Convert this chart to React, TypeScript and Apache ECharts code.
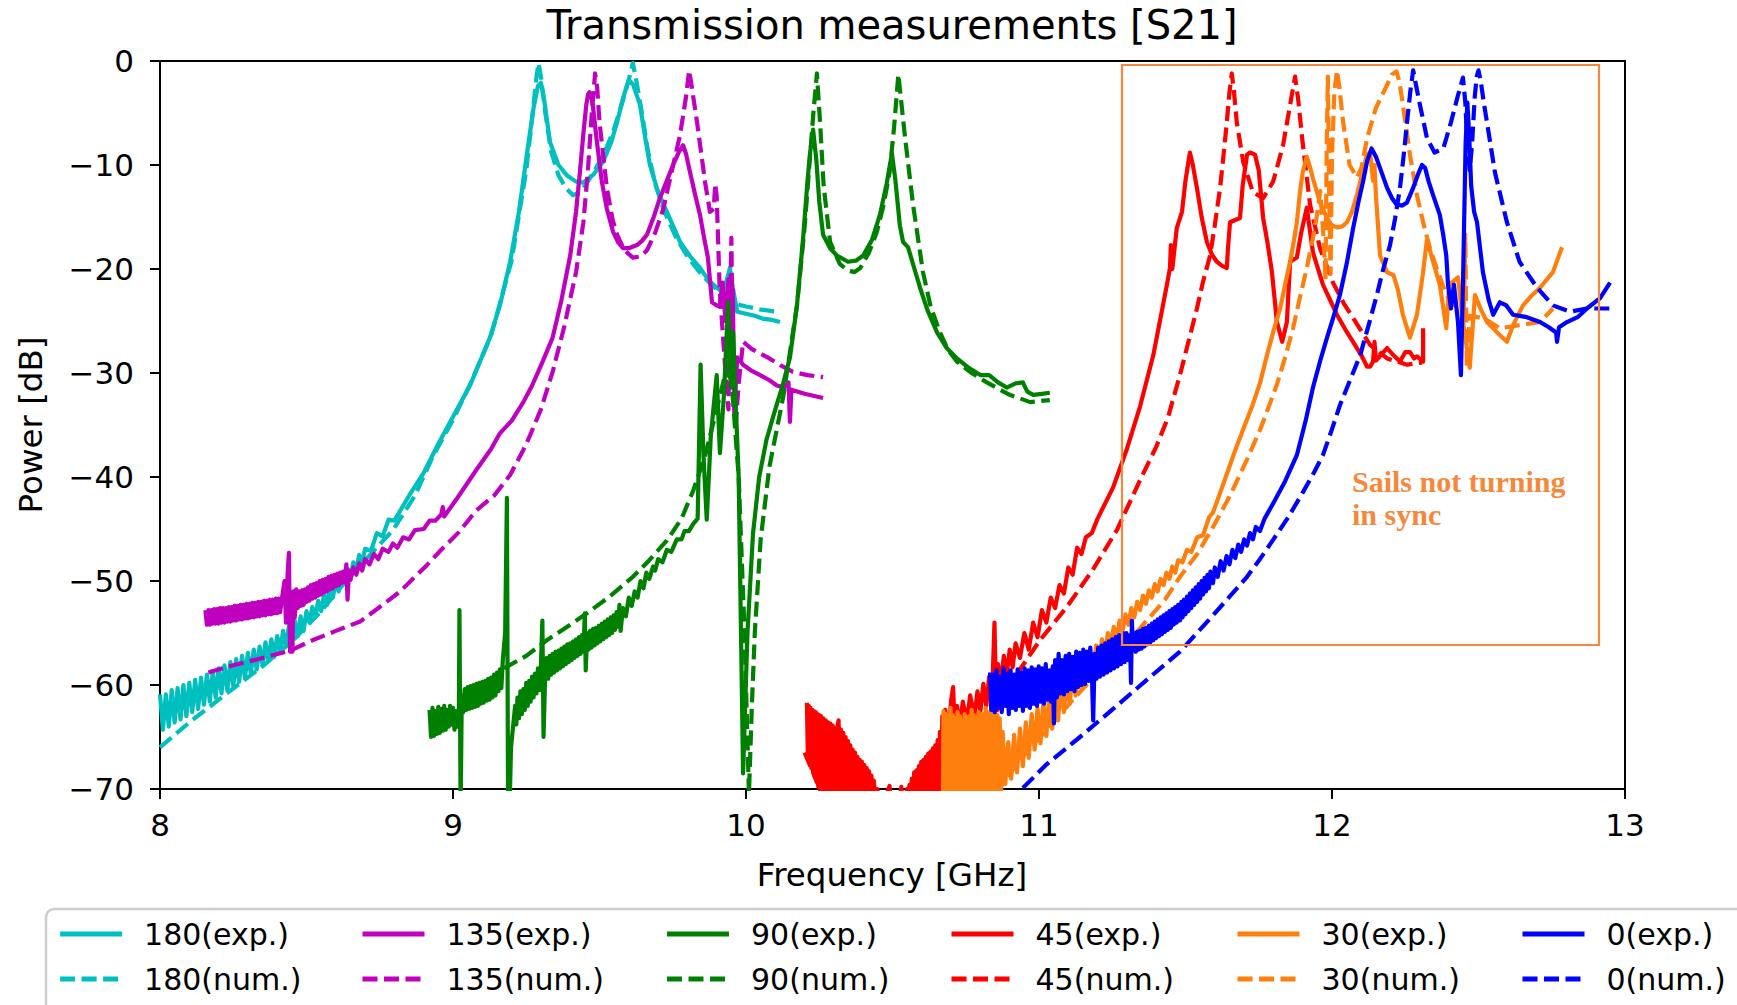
import React, { useEffect, useRef } from "react";
import * as echarts from "echarts";

type P = [number, number];

// ---------- axis ticks ----------
const X_TICKS = [8, 9, 10, 11, 12, 13];
const Y_TICKS = [-70, -60, -50, -40, -30, -20, -10, 0];

// ---------- 180 deg ----------
const exp180: P[] = [
  [8.00,-60.9],[8.01,-64.3],[8.02,-60.9],[8.03,-64.0],[8.04,-60.5],[8.05,-63.6],[8.06,-60.3],[8.07,-63.3],[8.08,-60.0],[8.09,-63.0],
  [8.10,-59.8],[8.11,-62.6],[8.12,-59.5],[8.13,-62.3],[8.14,-59.3],[8.15,-61.9],[8.16,-59.0],[8.17,-61.6],[8.18,-58.7],[8.19,-61.2],
  [8.20,-58.4],[8.21,-60.8],[8.22,-58.1],[8.23,-60.5],[8.24,-57.8],[8.25,-60.1],[8.26,-57.5],[8.27,-59.7],[8.28,-57.2],[8.29,-59.3],
  [8.30,-56.9],[8.31,-58.9],[8.32,-56.6],[8.33,-58.5],[8.34,-56.3],[8.35,-58.1],[8.36,-55.9],[8.37,-57.7],[8.38,-55.6],[8.39,-57.3],
  [8.40,-55.3],[8.41,-56.8],[8.42,-54.8],[8.43,-56.3],[8.44,-54.3],[8.45,-55.8],[8.46,-53.8],[8.47,-55.3],[8.48,-53.4],[8.49,-54.8],
  [8.50,-52.9],[8.51,-54.0],[8.52,-52.5],[8.53,-53.5],[8.54,-51.9],[8.55,-52.9],[8.56,-51.3],[8.57,-52.3],[8.58,-50.7],[8.59,-51.6],
  [8.60,-50.1],[8.61,-51.0],[8.62,-49.5],[8.63,-50.3],[8.64,-48.8],[8.65,-49.6],[8.66,-48.2],[8.67,-48.9],[8.68,-47.5],[8.69,-48.2],
  [8.70,-46.9],[8.72,-47.1],[8.74,-45.4],[8.76,-45.7],[8.78,-44.1],[8.80,-44.2],[8.85,-41.8],[8.90,-39.6],[8.95,-36.8],[9.00,-34.2],
  [9.058,-31.2],[9.126,-26.6],[9.16,-23.5],[9.195,-19.3],[9.225,-14.5],[9.252,-9.0],[9.275,-4.5],[9.29,-2.4],[9.30,-2.1],[9.31,-3.5],
  [9.331,-7.8],[9.36,-10.0],[9.389,-11.0],[9.42,-11.6],[9.444,-11.7],[9.48,-10.9],[9.512,-9.7],[9.54,-7.8],[9.56,-5.9],[9.58,-3.6],
  [9.60,-1.8],[9.615,-2.3],[9.638,-4.2],[9.655,-7.2],[9.672,-10.0],[9.70,-12.6],[9.73,-14.5],[9.775,-17.4],[9.81,-18.8],[9.843,-19.9],
  [9.87,-21.0],[9.90,-21.8],[9.92,-22.2],[9.935,-21.0],[9.945,-19.9],[9.955,-21.8],[9.97,-24.1],[10.0,-24.3],[10.03,-24.5],[10.06,-24.8],
  [10.09,-24.9],[10.116,-25.1],
];
const num180: P[] = [
  [8.0,-66.0],[8.1,-63.6],[8.228,-60.8],[8.35,-58.2],[8.454,-55.7],[8.55,-52.9],[8.638,-49.9],[8.72,-47.4],[8.795,-45.1],[8.87,-41.8],
  [8.93,-38.1],[9.0,-34.5],[9.06,-31.0],[9.13,-26.4],[9.2,-19.2],[9.25,-10.5],[9.27,-5.5],[9.285,-1.5],[9.292,-0.2],[9.30,-1.5],
  [9.315,-5.0],[9.335,-8.7],[9.36,-11.0],[9.385,-12.2],[9.41,-12.9],[9.435,-12.6],[9.46,-11.6],[9.49,-10.2],[9.52,-8.6],[9.55,-6.5],
  [9.58,-3.8],[9.60,-1.8],[9.614,-0.2],[9.625,-1.8],[9.645,-5.0],[9.665,-8.6],[9.69,-11.8],[9.72,-14.4],[9.76,-16.9],[9.80,-18.8],
  [9.85,-20.6],[9.90,-22.0],[9.93,-22.8],[9.96,-23.3],[10.0,-23.6],[10.05,-23.9],[10.105,-24.1],
];

// ---------- 135 deg ----------
const exp135: P[] = [
  [8.155,-52.8],[8.160,-54.2],[8.165,-52.8],[8.170,-54.2],[8.175,-52.8],[8.180,-54.1],[8.185,-52.7],[8.190,-54.1],[8.195,-52.7],[8.200,-54.1],
  [8.205,-52.6],[8.210,-54.0],[8.215,-52.6],[8.220,-54.0],[8.225,-52.6],[8.230,-53.9],[8.235,-52.5],[8.240,-53.9],[8.245,-52.5],[8.250,-53.8],
  [8.255,-52.4],[8.260,-53.8],[8.265,-52.4],[8.270,-53.7],[8.275,-52.3],[8.280,-53.7],[8.285,-52.3],[8.290,-53.6],[8.295,-52.2],[8.300,-53.6],
  [8.305,-52.2],[8.310,-53.5],[8.315,-52.1],[8.320,-53.5],[8.325,-52.1],[8.330,-53.4],[8.335,-52.0],[8.340,-53.4],[8.345,-52.0],[8.350,-53.3],
  [8.355,-51.9],[8.360,-53.3],[8.365,-51.9],[8.370,-53.2],[8.375,-51.8],[8.380,-53.2],[8.385,-51.8],[8.390,-53.1],[8.395,-51.7],[8.400,-53.1],
  [8.405,-51.7],[8.410,-53.0],[8.415,-51.9],[8.425,-50.0],[8.430,-54.0],[8.436,-49.0],[8.440,-47.3],[8.444,-56.8],[8.452,-56.8],[8.455,-51.0],
  [8.46,-53.5],[8.465,-50.8],[8.47,-52.6],[8.475,-51.0],[8.48,-52.4],[8.485,-50.9],[8.49,-52.3],[8.495,-50.8],[8.50,-52.0],[8.505,-50.6],
  [8.51,-51.9],[8.515,-50.4],[8.52,-51.7],[8.525,-50.3],[8.53,-51.6],[8.535,-50.2],[8.54,-51.4],[8.545,-50.0],[8.55,-51.3],[8.555,-49.9],
  [8.56,-51.1],[8.565,-49.8],[8.57,-51.0],[8.575,-49.6],[8.58,-50.8],[8.585,-49.5],[8.59,-50.7],[8.595,-49.4],[8.60,-50.5],[8.605,-49.3],
  [8.61,-50.4],[8.615,-49.2],[8.62,-50.2],[8.625,-49.1],[8.63,-50.1],[8.636,-48.4],[8.640,-51.8],[8.645,-49.0],[8.65,-49.9],[8.66,-48.7],
  [8.67,-49.4],[8.68,-48.3],[8.69,-49.0],[8.70,-47.9],[8.715,-48.4],[8.73,-47.4],[8.745,-47.9],[8.76,-46.9],[8.78,-47.2],[8.795,-46.4],
  [8.81,-46.8],[8.83,-45.8],[8.85,-46.0],[8.87,-45.1],[8.90,-45.0],[8.92,-44.2],[8.94,-44.2],[8.96,-43.6],[8.965,-42.9],[8.97,-43.8],
  [9.02,-41.8],[9.08,-39.3],[9.13,-37.3],[9.16,-35.8],[9.2,-34.6],[9.24,-32.8],[9.27,-31.2],[9.30,-29.3],[9.34,-26.6],[9.37,-23.0],
  [9.40,-18.7],[9.42,-14.5],[9.433,-10.7],[9.445,-7.0],[9.455,-4.2],[9.461,-3.2],[9.466,-3.0],[9.472,-3.4],[9.477,-4.2],[9.49,-7.5],
  [9.508,-11.6],[9.525,-14.2],[9.546,-16.4],[9.565,-17.5],[9.58,-18.0],[9.60,-18.0],[9.628,-17.7],[9.645,-17.3],[9.662,-16.7],[9.685,-15.0],
  [9.706,-13.2],[9.73,-11.5],[9.751,-10.0],[9.77,-8.8],[9.785,-8.1],[9.795,-8.9],[9.809,-10.7],[9.825,-12.7],[9.843,-14.8],[9.857,-17.0],
  [9.87,-18.9],[9.884,-23.2],[9.90,-23.5],[9.91,-23.6],[9.92,-21.3],[9.93,-25.0],[9.94,-21.0],[9.95,-30.5],[9.955,-22.0],[9.96,-33.8],
  [9.97,-28.5],[9.99,-29.2],[10.02,-29.8],[10.048,-30.2],[10.08,-30.7],[10.105,-31.2],[10.13,-31.4],[10.145,-30.9],[10.15,-34.7],[10.155,-31.6],
  [10.2,-32.0],[10.263,-32.4],
];
const num135: P[] = [
  [8.165,-58.8],[8.25,-58.1],[8.35,-57.4],[8.444,-56.7],[8.52,-55.7],[8.60,-54.8],[8.683,-53.9],[8.75,-52.5],[8.82,-51.0],[8.87,-49.6],
  [8.91,-48.5],[8.96,-47.0],[9.02,-45.3],[9.08,-43.2],[9.14,-41.8],[9.195,-39.8],[9.24,-37.4],[9.263,-36.0],[9.30,-33.5],[9.34,-29.9],
  [9.38,-25.5],[9.42,-20.3],[9.445,-15.5],[9.46,-10.7],[9.475,-4.5],[9.485,-1.2],[9.492,-2.5],[9.50,-5.9],[9.525,-12.2],[9.545,-15.3],
  [9.56,-16.7],[9.585,-18.2],[9.614,-18.9],[9.64,-18.8],[9.662,-18.2],[9.69,-16.5],[9.717,-14.3],[9.745,-10.8],[9.775,-7.1],[9.795,-3.5],
  [9.806,-0.9],[9.815,-2.5],[9.833,-5.9],[9.86,-11.6],[9.877,-14.5],[9.89,-14.2],[9.895,-11.8],[9.90,-13.0],[9.91,-21.8],[9.93,-30.0],
  [9.94,-33.5],[9.945,-25.0],[9.95,-17.0],[9.955,-28.0],[9.965,-35.0],[9.975,-31.0],[9.99,-27.0],[10.02,-27.7],[10.08,-28.6],[10.12,-29.3],
  [10.16,-29.9],[10.21,-30.2],[10.263,-30.4],
];

// ---------- 90 deg ----------
const exp90: P[] = [
  [8.920,-62.4],[8.925,-65.0],[8.930,-62.2],[8.935,-64.9],[8.940,-62.5],[8.945,-64.7],[8.950,-62.1],[8.955,-64.6],[8.960,-62.3],[8.965,-64.4],
  [8.970,-62.0],[8.975,-64.3],[8.980,-62.4],[8.985,-64.0],[8.990,-62.0],[8.995,-63.8],[9.000,-62.2],[9.005,-64.3],[9.010,-62.5],[9.015,-64.0],
  [9.020,-62.8],[9.022,-52.8],[9.026,-72.0],[9.030,-61.0],[9.035,-62.6],[9.040,-60.4],[9.045,-62.4],[9.050,-60.2],[9.055,-62.3],[9.060,-60.1],
  [9.065,-62.2],[9.070,-60.0],[9.075,-62.1],[9.080,-59.9],[9.085,-62.0],[9.090,-59.8],[9.095,-61.8],[9.100,-59.7],[9.105,-61.7],[9.110,-59.6],
  [9.115,-61.5],[9.120,-59.4],[9.125,-61.4],[9.130,-59.3],[9.135,-61.2],[9.140,-59.0],[9.145,-61.0],[9.150,-58.8],[9.155,-60.6],[9.160,-58.5],
  [9.165,-60.3],[9.170,-57.6],[9.178,-55.0],[9.184,-42.0],[9.188,-72.0],[9.193,-72.0],[9.198,-66.0],[9.205,-64.0],[9.212,-62.0],[9.216,-63.8],
  [9.220,-61.2],[9.225,-63.2],[9.230,-60.6],[9.235,-62.8],[9.240,-60.4],[9.245,-62.4],[9.250,-59.8],[9.255,-62.0],[9.260,-59.6],[9.265,-61.6],
  [9.270,-59.2],[9.275,-61.2],[9.280,-58.9],[9.285,-60.8],[9.290,-58.4],[9.295,-60.5],[9.300,-58.2],[9.305,-53.8],[9.309,-65.0],[9.315,-58.5],
  [9.320,-57.4],[9.325,-59.4],[9.330,-57.2],[9.335,-59.0],[9.340,-57.0],[9.345,-58.8],[9.350,-56.8],[9.355,-58.6],[9.360,-56.7],[9.365,-58.4],
  [9.370,-56.5],[9.375,-58.2],[9.380,-56.3],[9.385,-58.0],[9.390,-56.1],[9.395,-57.8],[9.400,-56.0],[9.405,-57.6],[9.410,-55.8],[9.415,-57.4],
  [9.420,-55.6],[9.425,-57.2],[9.430,-55.4],[9.435,-57.0],[9.440,-55.2],[9.445,-56.8],[9.450,-53.1],[9.453,-58.6],[9.458,-55.0],[9.463,-56.6],
  [9.468,-54.8],[9.473,-56.4],[9.478,-54.6],[9.483,-56.2],[9.488,-54.5],[9.493,-56.0],[9.498,-54.3],[9.503,-55.8],[9.508,-54.1],[9.513,-55.6],
  [9.518,-53.9],[9.523,-55.4],[9.528,-53.7],[9.533,-55.2],[9.538,-53.5],[9.543,-55.0],[9.548,-53.3],[9.553,-54.7],[9.558,-53.0],[9.563,-54.4],
  [9.568,-52.3],[9.572,-54.8],[9.580,-52.6],[9.59,-53.4],[9.600,-51.6],[9.61,-52.4],[9.620,-51.0],[9.63,-51.6],[9.640,-50.0],[9.65,-50.7],
  [9.660,-49.2],[9.67,-49.8],[9.683,-48.6],[9.69,-49.0],[9.70,-47.9],[9.715,-48.2],[9.73,-47.0],[9.745,-47.2],[9.764,-46.0],[9.78,-46.0],
  [9.79,-45.2],[9.805,-45.2],[9.82,-44.5],[9.835,-44.0],[9.845,-29.2],[9.855,-38.0],[9.866,-44.1],[9.88,-36.0],[9.90,-30.2],[9.911,-37.7],
  [9.925,-32.0],[9.939,-23.2],[9.948,-31.4],[9.956,-26.1],[9.965,-33.0],[9.975,-40.0],[9.99,-68.5],[10.005,-55.0],[10.024,-45.4],[10.045,-40.0],
  [10.07,-36.4],[10.1,-33.5],[10.127,-31.0],[10.15,-28.5],[10.174,-23.5],[10.195,-17.0],[10.21,-11.5],[10.218,-9.0],[10.229,-6.6],[10.24,-9.5],
  [10.25,-13.5],[10.263,-16.7],[10.287,-18.0],[10.31,-18.7],[10.348,-19.3],[10.375,-19.2],[10.4,-18.7],[10.43,-17.2],[10.457,-14.8],[10.48,-11.8],
  [10.498,-8.9],[10.51,-11.5],[10.525,-15.8],[10.536,-17.4],[10.553,-17.9],[10.575,-20.0],[10.594,-21.8],[10.62,-24.0],[10.652,-26.1],[10.685,-27.6],
  [10.72,-28.6],[10.76,-29.5],[10.8,-30.2],[10.83,-30.2],[10.86,-30.9],[10.89,-31.4],[10.92,-31.0],[10.945,-30.9],[10.96,-31.8],[10.98,-32.1],
  [11.01,-32.0],[11.037,-31.9],
];
const num90: P[] = [
  [9.174,-58.4],[9.25,-57.2],[9.32,-55.7],[9.39,-54.4],[9.457,-53.1],[9.53,-51.6],[9.614,-49.6],[9.67,-48.0],[9.73,-46.1],[9.78,-44.0],
  [9.82,-41.3],[9.86,-38.0],[9.90,-33.5],[9.93,-30.0],[9.95,-30.5],[9.975,-40.0],[9.995,-55.0],[10.01,-70.5],[10.02,-62.0],[10.03,-55.0],
  [10.05,-46.0],[10.08,-39.0],[10.127,-32.3],[10.174,-23.5],[10.2,-16.0],[10.215,-10.5],[10.23,-5.0],[10.242,-1.2],[10.253,-6.0],[10.265,-12.0],
  [10.287,-17.4],[10.32,-19.5],[10.345,-20.1],[10.37,-20.3],[10.39,-19.9],[10.42,-18.4],[10.447,-16.4],[10.47,-13.8],[10.49,-10.7],[10.505,-6.5],
  [10.52,-1.3],[10.532,-4.5],[10.543,-7.4],[10.57,-13.8],[10.604,-20.3],[10.63,-23.6],[10.662,-26.1],[10.69,-27.8],[10.72,-28.9],[10.77,-30.0],
  [10.822,-30.9],[10.86,-31.5],[10.9,-32.1],[10.97,-32.8],[11.037,-32.6],
];

// ---------- 45 deg ----------
const exp45: P[] = [
  [10.208,-61.7],[10.211,-67.0],[10.214,-62.0],[10.217,-67.5],[10.220,-62.2],[10.223,-68.0],[10.226,-62.4],[10.229,-68.4],[10.232,-62.5],[10.235,-68.9],
  [10.238,-62.6],[10.241,-69.3],[10.244,-62.8],[10.247,-69.8],[10.250,-62.9],[10.253,-70.5],[10.256,-63.0],[10.260,-71],[10.264,-63.2],[10.268,-71],
  [10.272,-63.4],[10.276,-71],[10.280,-63.6],[10.284,-71],[10.288,-63.7],[10.292,-71],[10.296,-63.9],[10.300,-71],[10.304,-64.2],[10.308,-71],
  [10.312,-64.0],[10.316,-63.4],[10.320,-71],[10.324,-64.3],[10.328,-71],[10.332,-64.6],[10.336,-71],[10.340,-65.0],[10.344,-71],[10.348,-65.4],
  [10.352,-71],[10.356,-65.8],[10.360,-71],[10.364,-66.2],[10.368,-71],[10.372,-66.5],[10.376,-71],[10.380,-66.9],[10.384,-71],[10.388,-67.2],
  [10.392,-71],[10.396,-67.4],[10.400,-71],[10.404,-67.7],[10.408,-71],[10.412,-68.0],[10.416,-71],[10.420,-68.3],[10.424,-71],[10.428,-68.7],
  [10.432,-71],[10.436,-69.2],[10.442,-71],[10.448,-70],[10.46,-72],[10.49,-69.7],[10.495,-72],[10.52,-72],[10.53,-69.8],[10.535,-72],
  [10.550,-70.0],[10.554,-71],[10.558,-69.6],[10.562,-71],[10.566,-69.0],[10.570,-71],[10.574,-68.4],[10.578,-71],[10.582,-68.2],[10.586,-71],
  [10.590,-67.8],[10.594,-71],[10.598,-67.4],[10.602,-71],[10.606,-67.2],[10.610,-71],[10.614,-66.9],[10.618,-71],[10.622,-66.6],[10.626,-71],
  [10.630,-66.4],[10.634,-71],[10.638,-66.1],[10.642,-71],[10.646,-65.8],[10.650,-71],[10.654,-65.3],[10.658,-71],[10.662,-64.5],[10.666,-71],
  [10.670,-63.0],[10.675,-69],[10.68,-62.4],[10.69,-65.0],[10.70,-61.5],[10.707,-60.2],[10.712,-64.0],[10.72,-62.0],[10.73,-64.0],[10.74,-61.6],
  [10.754,-63.5],[10.765,-61.0],[10.78,-63.0],[10.79,-60.6],[10.80,-62.5],[10.81,-59.9],[10.82,-62.0],[10.83,-59.2],[10.84,-61.0],[10.848,-54.0],
  [10.853,-60.5],[10.86,-58.0],[10.87,-59.8],[10.88,-57.2],[10.89,-59.0],[10.90,-56.6],[10.91,-58.3],[10.92,-56.0],[10.935,-57.4],[10.95,-55.0],
  [10.965,-56.6],[10.98,-54.0],[10.995,-55.4],[11.01,-52.8],[11.025,-54.0],[11.04,-51.6],[11.055,-52.6],[11.07,-50.4],[11.085,-51.2],[11.10,-48.7],
  [11.115,-49.4],[11.13,-46.8],[11.145,-47.4],[11.16,-45.8],[11.18,-45.4],[11.2,-44.0],[11.253,-41.0],[11.3,-37.3],[11.345,-33.2],[11.39,-28.3],
  [11.423,-23.5],[11.44,-21.0],[11.447,-19.9],[11.45,-17.7],[11.455,-20.0],[11.47,-16.1],[11.488,-14.5],[11.50,-11.5],[11.515,-8.8],[11.525,-10.0],
  [11.539,-12.2],[11.555,-15.0],[11.573,-17.4],[11.59,-18.6],[11.607,-19.3],[11.625,-19.7],[11.641,-19.9],[11.645,-18.0],[11.652,-15.5],[11.686,-15.1],
  [11.695,-12.0],[11.71,-9.0],[11.72,-8.8],[11.737,-9.0],[11.75,-10.5],[11.765,-15.1],[11.78,-17.5],[11.795,-20.3],[11.812,-25.1],[11.83,-27.0],
  [11.846,-25.1],[11.857,-19.3],[11.88,-18.9],[11.895,-16.5],[11.914,-14.1],[11.935,-18.4],[11.969,-21.5],[12.017,-24.4],[12.045,-25.8],[12.072,-27.0],
  [12.10,-28.3],[12.12,-29.4],[12.13,-29.4],[12.14,-28.9],[12.145,-27.0],[12.15,-28.8],[12.188,-27.6],[12.21,-28.3],[12.232,-28.9],[12.25,-28.0],
  [12.266,-28.0],[12.28,-28.6],[12.29,-28.4],[12.311,-28.9],[12.311,-25.7],
];
const num45: P[] = [
  [10.2,-66.5],[10.26,-70.5],[10.4,-74.0],[10.6,-74.0],[10.78,-68.0],[10.85,-62.8],[10.911,-59.5],[11.003,-55.7],[11.095,-52.5],[11.184,-48.9],
  [11.266,-45.1],[11.345,-40.3],[11.40,-37.1],[11.44,-34.3],[11.481,-30.2],[11.51,-27.0],[11.539,-23.8],[11.56,-21.2],[11.584,-18.7],[11.60,-15.8],
  [11.618,-12.2],[11.63,-9.0],[11.641,-5.9],[11.65,-3.0],[11.658,-1.2],[11.665,-2.8],[11.675,-5.9],[11.697,-9.7],[11.73,-12.6],[11.765,-13.2],
  [11.799,-11.6],[11.833,-8.1],[11.857,-4.2],[11.874,-1.5],[11.885,-3.8],[11.898,-7.4],[11.925,-13.8],[11.959,-18.0],[12.003,-21.3],[12.04,-23.3],
  [12.072,-24.7],[12.13,-27.3],[12.188,-28.6],[12.256,-29.2],[12.307,-29.0],
];

// ---------- 30 deg ----------
const exp30: P[] = [
  [10.672,-71],[10.674,-62.5],[10.678,-71],[10.682,-62.8],[10.686,-71],[10.690,-63.0],[10.694,-71],[10.698,-62.2],[10.702,-71],[10.706,-62.9],
  [10.710,-71],[10.714,-63.2],[10.718,-71],[10.722,-62.6],[10.726,-71],[10.730,-63.0],[10.734,-71],[10.738,-63.4],[10.742,-71],[10.746,-62.8],
  [10.750,-71],[10.754,-63.1],[10.758,-71],[10.762,-63.0],[10.766,-71],[10.770,-62.4],[10.774,-71],[10.778,-62.9],[10.782,-71],[10.786,-63.2],
  [10.790,-71],[10.794,-62.6],[10.798,-71],[10.802,-62.9],[10.806,-71],[10.810,-62.8],[10.814,-71],[10.818,-62.2],[10.822,-71],[10.826,-62.6],
  [10.830,-71],[10.834,-62.7],[10.838,-71],[10.842,-62.4],[10.846,-71],[10.850,-62.6],[10.854,-71],[10.858,-62.9],[10.862,-71],[10.866,-63.2],
  [10.870,-71],[10.876,-64.5],[10.885,-69.5],[10.895,-65.5],[10.905,-69.0],[10.915,-64.8],
  [10.925,-68.4],[10.935,-64.2],[10.945,-67.8],[10.955,-63.6],[10.965,-67.0],[10.975,-62.8],[10.985,-66.2],[10.995,-62.2],[11.005,-65.6],[11.015,-61.6],
  [11.025,-64.9],[11.035,-61.0],[11.045,-64.2],[11.055,-60.4],[11.065,-63.4],[11.075,-59.8],[11.085,-62.6],[11.095,-59.2],[11.105,-61.8],[11.115,-58.5],
  [11.125,-61.0],[11.135,-58.0],[11.145,-60.2],[11.155,-57.4],[11.165,-59.4],[11.175,-56.8],[11.185,-58.6],[11.195,-56.2],[11.205,-57.8],[11.215,-55.6],
  [11.225,-57.0],[11.235,-55.0],[11.245,-56.2],[11.255,-54.4],[11.265,-55.6],[11.275,-53.8],[11.285,-54.9],[11.295,-53.2],[11.305,-54.2],[11.315,-52.6],
  [11.325,-53.5],[11.335,-52.0],[11.345,-52.8],[11.355,-51.4],[11.365,-52.2],[11.375,-50.9],[11.385,-51.6],[11.395,-50.3],[11.405,-51.0],[11.415,-49.8],
  [11.425,-50.4],[11.435,-49.2],[11.445,-49.8],[11.455,-48.6],[11.465,-49.2],[11.475,-48.0],[11.49,-48.2],[11.505,-47.0],[11.52,-47.2],[11.54,-45.8],
  [11.56,-45.6],[11.58,-43.9],[11.594,-43.4],[11.63,-40.6],[11.67,-37.4],[11.70,-35.2],[11.73,-33.0],[11.754,-31.0],[11.778,-28.3],
  [11.80,-26.0],[11.823,-23.8],[11.84,-21.5],[11.857,-19.3],[11.87,-17.3],[11.88,-15.5],[11.89,-12.8],[11.90,-10.7],[11.914,-9.2],[11.925,-10.2],
  [11.935,-11.3],[11.959,-13.6],[11.983,-15.1],[12.0,-15.8],[12.017,-16.0],[12.035,-15.9],[12.051,-15.5],[12.068,-14.5],[12.085,-12.9],[12.10,-11.2],
  [12.119,-9.0],[12.13,-8.8],[12.14,-11.5],[12.145,-10.0],[12.15,-13.0],[12.164,-18.7],[12.188,-20.3],[12.21,-20.6],[12.225,-22.0],[12.242,-24.4],
  [12.266,-26.6],[12.29,-24.4],[12.31,-20.5],[12.324,-17.2],[12.345,-19.3],[12.368,-21.5],[12.39,-25.7],[12.40,-21.5],[12.43,-20.8],[12.447,-25.1],
  [12.47,-29.5],[12.488,-22.5],[12.51,-24.0],[12.529,-25.1],[12.56,-26.0],[12.597,-27.0],[12.618,-25.4],[12.652,-23.5],[12.68,-22.6],[12.71,-21.8],
  [12.754,-20.3],[12.785,-17.9],
];
const num30: P[] = [
  [10.85,-70.5],[10.935,-67.2],[11.027,-64.3],[11.116,-61.4],[11.208,-58.6],[11.31,-55.7],[11.368,-53.8],[11.43,-51.8],[11.481,-49.6],[11.54,-47.4],
  [11.594,-44.8],[11.65,-41.9],[11.71,-38.3],[11.754,-35.5],[11.79,-32.8],[11.812,-31.1],[11.84,-28.5],[11.867,-25.7],[11.89,-22.8],[11.914,-19.9],
  [11.935,-17.0],[11.949,-14.8],[11.96,-12.5],[11.97,-16.5],[11.978,-21.0],[11.982,-8.0],[11.986,-1.5],[11.99,-12.0],[11.995,-20.5],[12.0,-9.0],
  [12.008,-3.0],[12.017,-0.9],[12.025,-2.5],[12.038,-5.9],[12.06,-10.0],[12.085,-11.2],[12.10,-10.3],[12.12,-7.4],[12.15,-4.5],[12.188,-2.3],
  [12.205,-1.3],[12.22,-1.0],[12.23,-2.0],[12.242,-4.2],[12.266,-9.0],[12.29,-12.9],[12.311,-15.5],[12.334,-18.0],[12.362,-20.3],[12.39,-22.5],
  [12.42,-23.5],[12.45,-24.0],[12.455,-16.7],[12.46,-29.5],[12.47,-24.5],[12.515,-24.7],[12.573,-25.7],[12.64,-25.4],[12.71,-25.1],[12.754,-23.8],
];

// ---------- 0 deg ----------
const exp0: P[] = [
  [10.833,-58.8],[10.837,-62.4],[10.843,-59.0],[10.849,-62.6],[10.855,-58.6],[10.861,-62.2],[10.867,-59.2],[10.873,-62.6],[10.879,-58.4],[10.885,-62.0],
  [10.891,-58.9],[10.897,-62.8],[10.903,-58.6],[10.909,-62.2],[10.915,-59.0],[10.921,-62.4],[10.927,-58.5],[10.933,-62.0],[10.939,-58.8],[10.945,-62.5],
  [10.951,-58.4],[10.957,-62.0],[10.963,-58.6],[10.969,-62.2],[10.975,-58.3],[10.981,-61.8],[10.987,-58.5],[10.993,-62.0],[10.999,-58.2],[11.005,-61.6],
  [11.011,-58.4],[11.017,-61.8],[11.023,-58.0],[11.029,-61.4],[11.035,-58.6],[11.041,-61.6],[11.047,-58.2],[11.051,-63.7],[11.055,-57.6],[11.061,-61.2],
  [11.067,-57.0],[11.073,-60.8],[11.079,-57.6],[11.085,-60.9],[11.091,-57.2],[11.097,-60.6],[11.103,-57.0],[11.109,-60.4],[11.115,-57.3],[11.121,-60.6],
  [11.127,-56.8],[11.133,-60.2],[11.139,-56.9],[11.145,-60.0],[11.151,-56.6],[11.157,-59.9],[11.163,-56.8],[11.169,-59.6],[11.175,-56.4],[11.181,-59.5],
  [11.185,-63.4],[11.190,-57.0],[11.196,-59.4],[11.202,-56.4],[11.208,-59.2],[11.214,-56.2],[11.220,-59.0],[11.226,-56.0],[11.232,-58.8],[11.238,-55.8],
  [11.244,-58.6],[11.250,-55.6],[11.256,-58.4],[11.262,-55.4],[11.268,-58.2],[11.274,-55.2],[11.280,-58.0],[11.286,-55.0],[11.292,-57.8],[11.298,-55.0],
  [11.304,-57.6],[11.310,-55.2],[11.314,-59.8],[11.317,-53.8],[11.320,-56.0],[11.325,-55.0],[11.330,-56.8],[11.335,-54.9],[11.340,-56.6],[11.345,-54.8],
  [11.350,-56.5],[11.355,-54.6],[11.360,-56.3],[11.365,-54.5],[11.370,-56.1],[11.375,-54.3],[11.380,-55.9],[11.385,-54.1],[11.390,-55.7],[11.395,-53.9],
  [11.400,-55.5],[11.405,-53.7],[11.410,-55.3],[11.415,-53.5],[11.420,-55.1],[11.425,-53.3],[11.430,-54.9],[11.435,-53.1],[11.440,-54.7],[11.445,-52.9],
  [11.450,-54.5],[11.455,-52.7],[11.460,-54.2],[11.465,-52.5],[11.470,-54.0],[11.475,-52.3],[11.481,-53.8],[11.486,-52.0],[11.490,-53.5],[11.495,-51.8],
  [11.500,-53.2],[11.505,-51.5],[11.510,-52.9],[11.515,-51.2],[11.520,-52.6],[11.525,-50.9],[11.530,-52.3],[11.535,-50.6],[11.540,-52.0],[11.545,-50.3],
  [11.550,-51.7],[11.555,-50.0],[11.560,-51.3],[11.565,-49.7],[11.570,-51.0],[11.575,-49.4],[11.580,-50.7],[11.585,-49.1],[11.594,-50.2],[11.60,-48.7],
  [11.61,-49.6],[11.62,-48.1],[11.63,-49.0],[11.64,-47.6],[11.65,-48.4],[11.66,-47.0],[11.67,-47.8],[11.68,-46.5],[11.69,-47.2],[11.70,-46.0],
  [11.71,-46.6],[11.72,-45.4],[11.73,-46.0],[11.74,-44.8],[11.754,-45.2],[11.77,-44.0],[11.80,-42.5],[11.84,-40.4],[11.88,-37.9],[11.91,-34.6],
  [11.935,-31.4],[11.96,-28.8],[11.983,-26.6],[12.005,-24.6],[12.027,-22.5],[12.05,-19.5],[12.072,-16.1],[12.09,-13.6],[12.106,-11.6],[12.12,-9.6],
  [12.135,-8.4],[12.15,-9.2],[12.164,-10.3],[12.188,-12.2],[12.205,-13.2],[12.22,-13.8],[12.24,-13.9],[12.256,-13.6],[12.277,-12.2],[12.295,-10.8],
  [12.307,-10.0],[12.318,-10.3],[12.33,-11.6],[12.345,-12.9],[12.368,-14.8],[12.38,-16.8],[12.39,-18.7],[12.396,-21.5],[12.406,-23.8],[12.416,-21.5],
  [12.43,-25.1],[12.44,-30.2],[12.448,-20.0],[12.456,-8.0],[12.462,-4.0],[12.468,-7.0],[12.475,-12.0],[12.485,-14.5],[12.495,-15.5],[12.515,-20.3],
  [12.535,-23.0],[12.55,-24.4],[12.573,-23.2],[12.595,-23.5],[12.618,-24.4],[12.66,-24.6],[12.71,-25.1],[12.74,-25.6],[12.765,-26.1],[12.768,-27.0],
  [12.775,-25.6],[12.802,-25.1],[12.84,-24.6],[12.87,-23.8],[12.915,-22.8],[12.949,-21.3],
];
const num0: P[] = [
  [10.945,-69.9],[11.027,-67.6],[11.14,-65.0],[11.253,-62.3],[11.368,-59.5],[11.481,-56.8],[11.594,-53.3],[11.71,-49.6],[11.754,-47.9],[11.80,-46.0],
  [11.85,-43.9],[11.90,-41.5],[11.94,-39.5],[11.969,-37.9],[12.0,-35.4],[12.027,-33.1],[12.06,-30.8],[12.096,-28.3],[12.125,-25.4],[12.153,-22.5],
  [12.175,-20.0],[12.198,-17.7],[12.215,-15.2],[12.232,-12.2],[12.245,-9.0],[12.256,-5.9],[12.267,-3.0],[12.277,-0.9],[12.288,-2.5],[12.30,-4.2],
  [12.324,-7.4],[12.35,-8.8],[12.38,-8.4],[12.406,-5.9],[12.43,-3.3],[12.447,-1.6],[12.455,-4.0],[12.462,-8.0],[12.47,-10.5],[12.478,-8.0],
  [12.487,-3.5],[12.494,-1.5],[12.50,-0.9],[12.508,-2.0],[12.518,-4.0],[12.529,-5.9],[12.556,-10.7],[12.597,-15.5],[12.64,-19.3],[12.7,-21.8],
  [12.754,-23.5],[12.812,-24.1],[12.87,-23.8],[12.949,-23.8],
];

// ---------- series meta ----------
const ANGLES = ["180", "135", "90", "45", "30", "0"];
const COLORS = ["#00bfbf", "#bf00bf", "#008000", "#ff0000", "#ff7f0e", "#0000ff"];
const EXP_DATA = [exp180, exp135, exp90, exp45, exp30, exp0];
const NUM_DATA = [num180, num135, num90, num45, num30, num0];

const FONT = "DejaVu Sans";
const fmtY = (v: number) => (v < 0 ? "\u2212" + Math.abs(v) : String(v));

export default function App() {
  const ref = useRef<HTMLDivElement>(null);
  useEffect(() => {
    if (!ref.current) return;
    const chart = echarts.init(ref.current, null, { renderer: "svg" });

    const series: any[] = [];
    ANGLES.forEach((a, i) => {
      [false, true].forEach((dashed) => {
        series.push({
          name: `${a}(${dashed ? "num." : "exp."})`,
          type: "line",
          data: dashed ? NUM_DATA[i] : EXP_DATA[i],
          symbol: "none",
          showSymbol: false,
          clip: true,
          silent: true,
          emphasis: { disabled: true },
          color: COLORS[i],
          lineStyle: {
            color: COLORS[i],
            width: 4.2,
            type: dashed ? [15, 6.5] : "solid",
            join: "round",
            cap: "butt",
          },
        });
      });
    });

    const legendX = [52.6, 355, 659.5, 944, 1230, 1515];
    const legend = ANGLES.map((a, i) => ({
      orient: "vertical",
      left: legendX[i],
      top: 914,
      itemWidth: 62,
      itemHeight: 14,
      itemGap: 15,
      selectedMode: false,
      data: [`${a}(exp.)`, `${a}(num.)`],
      itemStyle: { opacity: 0 },
      lineStyle: { width: 5 },
      textStyle: {
        fontFamily: FONT,
        fontSize: 30,
        color: "#000",
        lineHeight: 30,
        padding: [0, 0, 0, 17],
      },
    }));

    const orange = "#f5883a";
    const option: any = {
      animation: false,
      backgroundColor: "#fff",
      grid: {
        left: 160,
        top: 61,
        width: 1465,
        height: 728,
        show: true,
        borderColor: "#000",
        borderWidth: 2,
        containLabel: false,
        outerBoundsMode: "none",
      },
      xAxis: {
        type: "value",
        min: X_TICKS[0],
        max: X_TICKS[X_TICKS.length - 1],
        interval: 1,
        axisLine: { show: true, onZero: false, lineStyle: { color: "#000", width: 2 } },
        axisTick: { show: true, length: 10, lineStyle: { color: "#000", width: 2 } },
        splitLine: { show: false },
        axisLabel: {
          fontFamily: FONT,
          fontSize: 31,
          color: "#000",
          margin: 36,
          verticalAlign: "middle",
        },
      },
      yAxis: {
        type: "value",
        min: Y_TICKS[0],
        max: Y_TICKS[Y_TICKS.length - 1],
        interval: 10,
        axisLine: { show: true, onZero: false, lineStyle: { color: "#000", width: 2 } },
        axisTick: { show: true, length: 10, lineStyle: { color: "#000", width: 2 } },
        splitLine: { show: false },
        axisLabel: {
          fontFamily: FONT,
          fontSize: 31,
          color: "#000",
          margin: 26,
          formatter: fmtY,
        },
      },
      legend,
      series,
      graphic: [
        {
          type: "text",
          x: 892,
          y: 25,
          silent: true,
          style: {
            text: "Transmission measurements [S21]",
            fontFamily: FONT,
            fontSize: 40,
            fill: "#000",
            align: "center",
            verticalAlign: "middle",
          },
        },
        {
          type: "text",
          x: 892,
          y: 875,
          silent: true,
          style: {
            text: "Frequency [GHz]",
            fontFamily: FONT,
            fontSize: 32.5,
            fill: "#000",
            align: "center",
            verticalAlign: "middle",
          },
        },
        {
          type: "text",
          x: 31,
          y: 425,
          rotation: Math.PI / 2,
          silent: true,
          style: {
            text: "Power [dB]",
            fontFamily: FONT,
            fontSize: 32.5,
            fill: "#000",
            align: "center",
            verticalAlign: "middle",
          },
        },
        {
          type: "rect",
          silent: true,
          z: 100,
          shape: { x: 1122, y: 65, width: 477, height: 580 },
          style: { fill: "none", stroke: orange, lineWidth: 2.2 },
        },
        {
          type: "text",
          x: 1352,
          y: 481,
          z: 100,
          silent: true,
          style: {
            text: "Sails not turning",
            fontFamily: "Liberation Serif",
            fontWeight: "bold",
            fontSize: 30,
            fill: orange,
            align: "left",
            verticalAlign: "middle",
          },
        },
        {
          type: "text",
          x: 1352,
          y: 514,
          z: 100,
          silent: true,
          style: {
            text: "in sync",
            fontFamily: "Liberation Serif",
            fontWeight: "bold",
            fontSize: 30,
            fill: orange,
            align: "left",
            verticalAlign: "middle",
          },
        },
        {
          type: "rect",
          silent: true,
          z: -1,
          shape: { x: 46, y: 909, width: 1800, height: 200, r: 8 },
          style: { fill: "#fff", stroke: "#cccccc", lineWidth: 2.5 },
        },
      ],
    };
    chart.setOption(option);
    return () => chart.dispose();
  }, []);

  return (
    <div
      ref={ref}
      style={{ position: "fixed", left: 0, top: 0, width: 1737, height: 1005, background: "#fff" }}
    />
  );
}
